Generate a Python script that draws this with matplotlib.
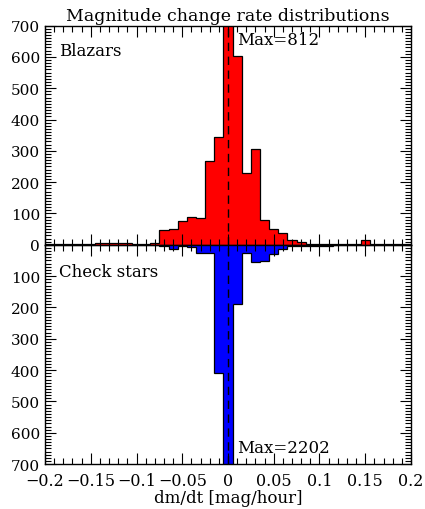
import numpy as np
import matplotlib.pyplot as plt
from matplotlib.ticker import MultipleLocator

plt.rcParams['font.family'] = ['DejaVu Serif']

# bin centres, dm/dt [mag/hour]
centers = [-0.20, -0.19, -0.18, -0.17, -0.16, -0.15, -0.14, -0.13, -0.12, -0.11,
           -0.10, -0.09, -0.08, -0.07, -0.06, -0.05, -0.04, -0.03, -0.02, -0.01,
           0.00, 0.01, 0.02, 0.03, 0.04, 0.05, 0.06, 0.07, 0.08, 0.09,
           0.10, 0.11, 0.12, 0.13, 0.14, 0.15, 0.16, 0.17, 0.18, 0.19, 0.20]
blazars = [2, 2, 3, 4, 4, 4, 5, 5, 5, 5,
           4, 4, 5, 47, 50, 75, 88, 86, 269, 344,
           812, 604, 230, 307, 78, 52, 37, 14, 8, 3,
           3, 3, 4, 3, 4, 16, 3, 2, 2, 2, 2]
check_stars = [1, 1, 1, 1, 2, 2, 2, 2, 2, 2,
               2, 2, 2, 3, 14, 5, 7, 26, 26, 410,
               2202, 190, 26, 55, 52, 30, 12, 5, 3, 4,
               4, 3, 2, 2, 2, 2, 1, 1, 1, 1, 1]

w = 0.01
edges = np.append(np.array(centers) - w / 2, centers[-1] + w / 2)

fig = plt.figure(figsize=(4.25, 5.1), dpi=100)
ax1 = fig.add_axes([0.106, 0.518, 0.861, 0.43])
ax2 = fig.add_axes([0.106, 0.088, 0.861, 0.43], sharex=ax1)

for ax, data, col in [(ax1, blazars, 'red'), (ax2, check_stars, 'blue')]:
    ax.stairs(data, edges, fill=True, color=col, baseline=0)
    ax.stairs(data, edges, color='black', lw=0.9, baseline=0)
    ax.axvline(0, color='black', ls=(0, (6, 4)), lw=1.0)
    ax.set_xlim(-0.2, 0.2)
    ax.set_ylim(0, 700)
    ax.xaxis.set_major_locator(MultipleLocator(0.05))
    ax.xaxis.set_minor_locator(MultipleLocator(0.01))
    ax.yaxis.set_major_locator(MultipleLocator(100))
    ax.yaxis.set_minor_locator(MultipleLocator(10))
    ax.tick_params(which='both', direction='in', top=True, right=True, labelsize=11.5)
    ax.tick_params(axis='y', labelsize=11)
    ax.tick_params(which='major', length=8, width=0.8)
    ax.tick_params(which='minor', length=4, width=0.8)
    for s in ax.spines.values():
        s.set_linewidth(1.0)

ax2.invert_yaxis()
ax1.tick_params(labelbottom=False)
ax2.tick_params(axis='x', pad=6)
ax2.set_yticks([100, 200, 300, 400, 500, 600, 700])
ax2.xaxis.set_major_formatter(plt.FuncFormatter(lambda v, p: '0' if abs(v) < 1e-9 else ('%g' % v).replace('-', '\u2212')))

ax1.text(-0.185, 605, 'Blazars', fontsize=12)
ax1.text(0.0105, 640, 'Max=812', fontsize=12)
ax2.text(-0.185, 100, 'Check stars', fontsize=12)
ax2.text(0.0105, 660, 'Max=2202', fontsize=12)

ax1.set_title('Magnitude change rate distributions', fontsize=12.5, pad=4)
ax2.set_xlabel('dm/dt [mag/hour]', fontsize=12, labelpad=0)

fig.savefig('out.png', dpi=100)
